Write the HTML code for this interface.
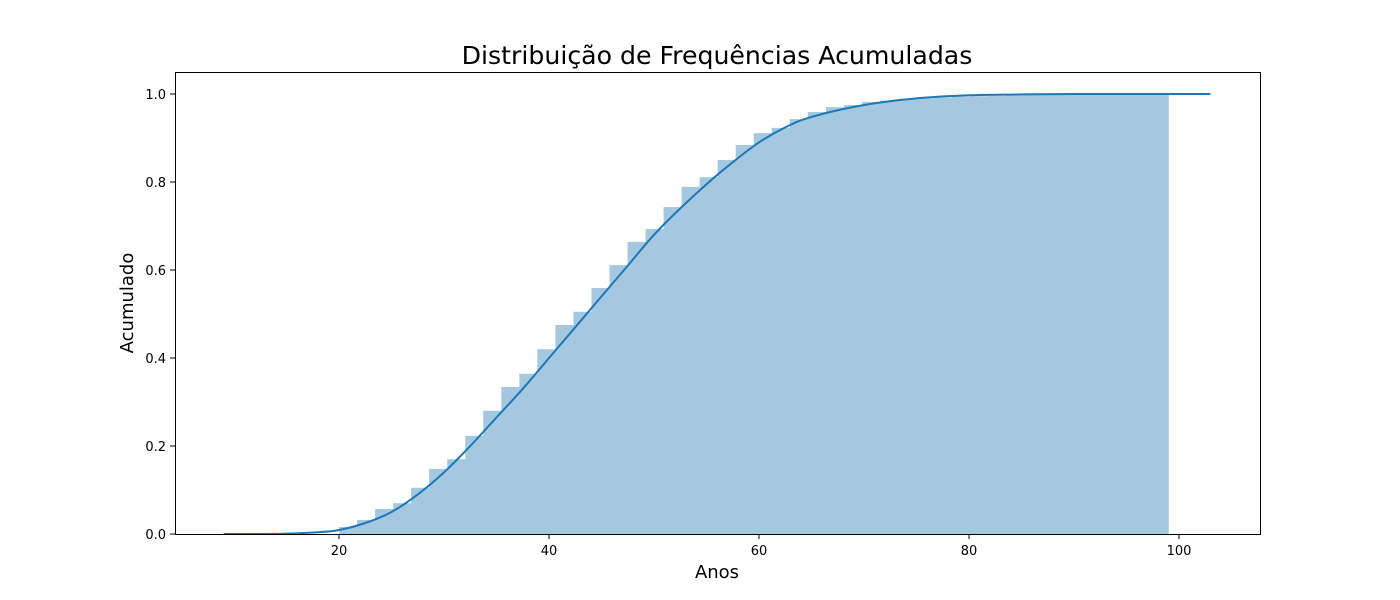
<!DOCTYPE html>
<html><head><meta charset="utf-8"><style>
html,body{margin:0;padding:0;background:#fff;}
svg{display:block;font-family:"DejaVu Sans","Liberation Sans",sans-serif;}
</style></head><body>
<svg id="chart" width="1400" height="600">
<rect width="1400" height="600" fill="#fff"/>
<text x="717" y="64" text-anchor="middle" font-size="25.2" fill="#000">Distribuição de Frequências Acumuladas</text>
<g id="bars"></g>
<path id="curve" fill="none" stroke="#1f77b4" stroke-width="2"/>
<rect x="175.5" y="72.5" width="1085" height="462" fill="none" stroke="#000" stroke-width="1"/>
<g id="xticks"></g>
<g id="yticks"></g>
<text x="717" y="578" text-anchor="middle" font-size="18">Anos</text>
<text transform="translate(133,303) rotate(-90)" text-anchor="middle" font-size="18">Acumulado</text>
</svg>
<script>
const binStart = 20;
const binEnd = 99;
const barValues = [0.016,0.032,0.057,0.07,0.105,0.148,0.17,0.223,0.28,0.334,0.364,0.42,0.475,0.505,0.559,0.611,0.664,0.693,0.743,0.789,0.811,0.85,0.884,0.911,0.923,0.943,0.959,0.97,0.975,0.982,0.985,0.988,0.99,0.992,0.994,0.995,0.996,0.997,0.998,0.998,0.999,0.999,0.999,1,1,1];
const curveX = [9,12,15,18,20,22.5,25,27.5,30,32.5,35,37.5,40,42.5,45,47.5,50,52.5,55,57.5,60,62.5,65,70,75,80,85,90,95,100,103];
const curveY = [0,0,0.001,0.004,0.009,0.025,0.05,0.09,0.14,0.2,0.265,0.33,0.4,0.47,0.54,0.61,0.68,0.74,0.795,0.845,0.89,0.924,0.948,0.975,0.99,0.997,0.999,1,1,1,1];
const xTicks = [20,40,60,80,100];
const yTicks = [0.0,0.2,0.4,0.6,0.8,1.0];

const NS = "http://www.w3.org/2000/svg";
function sx(v){ return 339 + (v-20)*10.5; }
function sy(v){ return 534 - v*440; }

const bars = document.getElementById('bars');
const bw = (binEnd-binStart)/barValues.length;
barValues.forEach((v,i)=>{
  const r = document.createElementNS(NS,'rect');
  const x0 = sx(binStart+i*bw), x1 = sx(binStart+(i+1)*bw);
  r.setAttribute('x', x0); r.setAttribute('width', x1-x0+0.3);
  r.setAttribute('y', sy(v)); r.setAttribute('height', sy(0)-sy(v));
  r.setAttribute('fill', '#a5c8e1');
  
  
  bars.appendChild(r);
});

const pts = curveX.map((x,i)=>[sx(x), sy(curveY[i])]);
let d = 'M' + pts[0][0].toFixed(1) + ',' + pts[0][1].toFixed(1);
for (let i=0;i<pts.length-1;i++){
  const p0 = pts[Math.max(0,i-1)], p1 = pts[i], p2 = pts[i+1], p3 = pts[Math.min(pts.length-1,i+2)];
  const c1 = [p1[0]+(p2[0]-p0[0])/6, p1[1]+(p2[1]-p0[1])/6];
  const c2 = [p2[0]-(p3[0]-p1[0])/6, p2[1]-(p3[1]-p1[1])/6];
  d += 'C' + c1[0].toFixed(1)+','+c1[1].toFixed(1)+' '+c2[0].toFixed(1)+','+c2[1].toFixed(1)+' '+p2[0].toFixed(1)+','+p2[1].toFixed(1);
}
document.getElementById('curve').setAttribute('d', d);

const xt = document.getElementById('xticks');
xTicks.forEach(t=>{
  const l = document.createElementNS(NS,'line');
  l.setAttribute('x1', sx(t)); l.setAttribute('x2', sx(t));
  l.setAttribute('y1', 534); l.setAttribute('y2', 539);
  l.setAttribute('stroke', '#000');
  
  
  xt.appendChild(l);
  const tx = document.createElementNS(NS,'text');
  tx.setAttribute('x', sx(t)); tx.setAttribute('y', 555);
  tx.setAttribute('text-anchor', 'middle'); tx.setAttribute('font-size', '13');
  tx.textContent = t;
  
  
  xt.appendChild(tx);
});
const yt = document.getElementById('yticks');
yTicks.forEach(t=>{
  const l = document.createElementNS(NS,'line');
  l.setAttribute('x1', 170); l.setAttribute('x2', 175);
  l.setAttribute('y1', sy(t)); l.setAttribute('y2', sy(t));
  l.setAttribute('stroke', '#000');
  
  
  yt.appendChild(l);
  const tx = document.createElementNS(NS,'text');
  tx.setAttribute('x', 166); tx.setAttribute('y', sy(t)+5);
  tx.setAttribute('text-anchor', 'end'); tx.setAttribute('font-size', '13');
  tx.textContent = t.toFixed(1);
  
  
  yt.appendChild(tx);
});
</script>
</body></html>
